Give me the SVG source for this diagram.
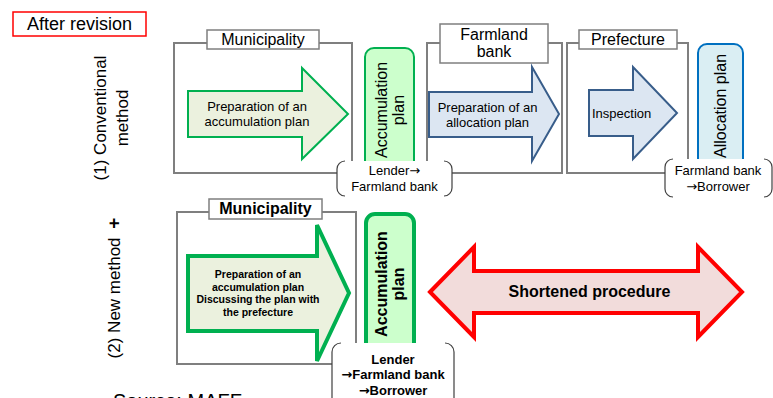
<svg xmlns="http://www.w3.org/2000/svg" width="773" height="398" viewBox="0 0 773 398">
<style>
text{font-family:"Liberation Sans",Arial,sans-serif;fill:#000}
.ar{font-family:"DejaVu Sans",sans-serif}
.frame{fill:none;stroke:#7f7f7f;stroke-width:2}
.lbl{fill:#fff;stroke:#7f7f7f;stroke-width:1.5}
.garr{fill:#ebf1de;stroke:#00b050;stroke-width:2}
.barr{fill:#dce6f2;stroke:#385d8a;stroke-width:2}
.gbox{fill:#ccffcc;stroke:#00b050;stroke-width:2}
.bbox{fill:#daeef3;stroke:#0070c0;stroke-width:2}
.call{fill:#fff;stroke:none}
.brk{fill:none;stroke:#404040;stroke-width:1.2}
.b{font-weight:bold}
</style>
<rect x="0" y="0" width="773" height="398" fill="#fff"/>
<g id="after-revision">
<rect x="13" y="12" width="133" height="24" fill="#fff" stroke="#ff0000" stroke-width="1.5"/>
<text x="79.5" y="30" font-size="18" text-anchor="middle">After revision</text>
</g>
<g id="row1-label">
<text transform="translate(106,118) rotate(-90)" font-size="17" text-anchor="middle">(1) Conventional</text>
<text transform="translate(128,118) rotate(-90)" font-size="17" text-anchor="middle">method</text>
</g>
<g id="row2-label">
<text transform="translate(120,288) rotate(-90)" font-size="17" text-anchor="middle">(2) New method <tspan class="b" font-size="19" dx="4">+</tspan></text>
</g>
<g id="connectors"></g>
<g id="municipality1">
<rect class="frame" x="174" y="43" width="178" height="130"/>
<rect class="lbl" x="207" y="30" width="112" height="19"/>
<text x="263" y="45" font-size="16" text-anchor="middle">Municipality</text>
<polygon class="garr" points="188,91 302,91 302,68 348,114 302,159 302,137 188,137"/>
<text x="257" y="111" font-size="13" text-anchor="middle">Preparation of an</text>
<text x="257" y="126" font-size="13" text-anchor="middle">accumulation plan</text>
</g>
<g id="accumulation1">
<rect class="gbox" x="365" y="48" width="49" height="130" rx="9"/>
<text transform="translate(387,110) rotate(-90)" font-size="16" text-anchor="middle">Accumulation</text>
<text transform="translate(404,110) rotate(-90)" font-size="16" text-anchor="middle">plan</text>
</g>
<g id="farmland-bank1">
<rect class="frame" x="427" y="43" width="135" height="130"/>
<rect class="lbl" x="440" y="24" width="108" height="39"/>
<text x="494" y="40" font-size="16" text-anchor="middle">Farmland</text>
<text x="494" y="57" font-size="16" text-anchor="middle">bank</text>
<polygon class="barr" points="429,92 532,92 532,67 559,114 532,161 532,137 429,137"/>
<text x="487.5" y="112" font-size="13" text-anchor="middle">Preparation of an</text>
<text x="487.5" y="127" font-size="13" text-anchor="middle">allocation plan</text>
</g>
<g id="prefecture1">
<rect class="frame" x="567" y="43" width="121" height="130"/>
<rect class="lbl" x="579" y="30" width="98" height="19"/>
<text x="628" y="45" font-size="16" text-anchor="middle">Prefecture</text>
<polygon class="barr" points="589,90 633,90 633,67 677,113 633,159 633,136 589,136"/>
<text x="592" y="118" font-size="13">Inspection</text>
</g>
<g id="allocation1">
<rect class="bbox" x="698" y="44" width="45" height="130" rx="9"/>
<text transform="translate(726,106) rotate(-90)" font-size="16" text-anchor="middle">Allocation plan</text>
</g>
<g id="callout1">
<rect class="call" x="337" y="161" width="115" height="35"/>
<path class="brk" d="M345,161 A8,8 0 0 0 337,169 L337,188 A8,8 0 0 0 345,196 M444,161 A8,8 0 0 1 452,169 L452,188 A8,8 0 0 1 444,196"/>
<text x="394.5" y="175" font-size="13" text-anchor="middle">Lender<tspan class="ar">→</tspan></text>
<text x="394.5" y="191" font-size="13" text-anchor="middle">Farmland bank</text>
</g>
<g id="callout2">
<rect class="call" x="665" y="159" width="108" height="38"/>
<path class="brk" d="M673,159 A8,8 0 0 0 665,167 L665,189 A8,8 0 0 0 673,197 M764,159 A8,8 0 0 1 772,167 L772,189 A8,8 0 0 1 764,197"/>
<text x="718" y="175" font-size="13" text-anchor="middle">Farmland bank</text>
<text x="718" y="191" font-size="13" text-anchor="middle"><tspan class="ar">→</tspan>Borrower</text>
</g>
<g id="municipality2">
<rect class="frame" x="177" y="212" width="179" height="152"/>
<rect class="lbl" x="209" y="199" width="113" height="20"/>
<text x="265.5" y="214" font-size="16" class="b" text-anchor="middle">Municipality</text>
<polygon class="garr" style="stroke-width:4" points="188,256 317,256 317,225 349,293 317,361 317,331 188,331"/>
<text x="258" y="278" font-size="10.5" class="b" text-anchor="middle">Preparation of an</text>
<text x="258" y="290.5" font-size="10.5" class="b" text-anchor="middle">accumulation plan</text>
<text x="258" y="303" font-size="10.5" class="b" text-anchor="middle">Discussing the plan with</text>
<text x="258" y="315.5" font-size="10.5" class="b" text-anchor="middle">the prefecture</text>
</g>
<g id="accumulation2">
<rect class="gbox" style="stroke-width:4" x="366" y="214" width="48" height="170" rx="9"/>
<text transform="translate(387,284) rotate(-90)" font-size="16" class="b" text-anchor="middle">Accumulation</text>
<text transform="translate(404,284) rotate(-90)" font-size="16" class="b" text-anchor="middle">plan</text>
</g>
<g id="callout3">
<rect class="call" x="332" y="343" width="122" height="60"/>
<path class="brk" d="M341,343 A9,9 0 0 0 332,352 L332,400 M445,343 A9,9 0 0 1 454,352 L454,400"/>
<text x="393" y="364" font-size="13" class="b" text-anchor="middle">Lender</text>
<text x="393" y="379" font-size="13" class="b" text-anchor="middle"><tspan class="ar">→</tspan>Farmland bank</text>
<text x="393" y="395" font-size="13" class="b" text-anchor="middle"><tspan class="ar">→</tspan>Borrower</text>
</g>
<g id="shortened">
<polygon fill="#f2dcdb" stroke="#ff0000" stroke-width="4" points="430,292 474,247 474,271 698,271 698,247 742,292 698,337 698,313 474,313 474,337"/>
<text x="589.5" y="297" font-size="16" class="b" text-anchor="middle">Shortened procedure</text>
</g>
<g id="source">
<text x="113" y="408" font-size="20">Source: MAFF</text>
</g>
</svg>
